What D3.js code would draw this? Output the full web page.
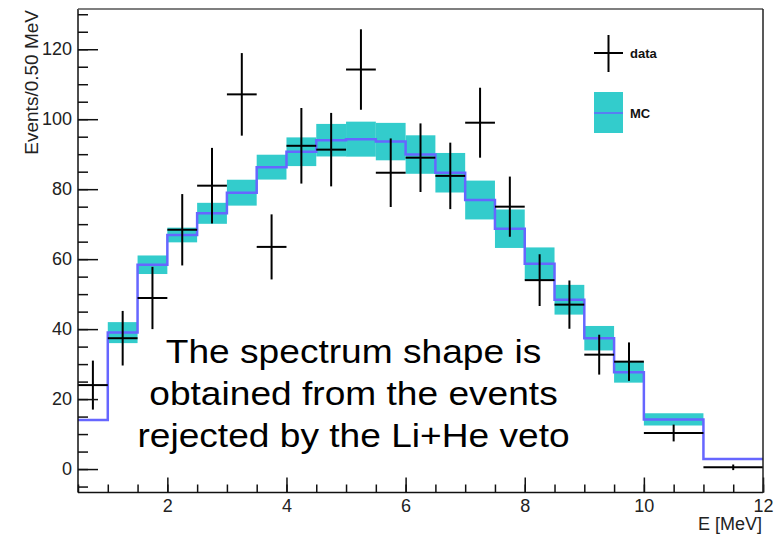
<!DOCTYPE html>
<html>
<head>
<meta charset="utf-8">
<script src="https://cdn.jsdelivr.net/npm/d3@7"></script>
<style>
  body { margin: 0; background: #fff; }
  svg { font-family: "Liberation Sans", Arial, sans-serif; }
</style>
</head>
<body>
<div id="chart"></div>
<script>
// bin edges (MeV): 0.5 MeV bins up to 10, then two 1 MeV bins
var binEdges = [0.5, 1, 1.5, 2, 2.5, 3, 3.5, 4, 4.5, 5, 5.5, 6, 6.5, 7, 7.5, 8, 8.5, 9, 9.5, 10, 11, 12];

// measured data and its error
var dataVal = [24, 37.4, 48.9, 68.4, 81, 107.1, 63.5, 92.4, 91.3, 114.2, 84.7, 89, 83.8, 99, 75, 54, 47, 32.7, 30.7, 10.3, 0.5];
var dataErr = [7, 7.8, 8.9, 10.2, 10.8, 11.8, 9.3, 10.8, 10.5, 11.5, 9.8, 9.8, 9.5, 10, 8.6, 7.4, 6.9, 5.7, 5.5, 2.4, 0.8];

// MC prediction and its band half-width
var mcVal = [14, 39, 58.4, 66.9, 73.1, 79, 86.3, 90.7, 94, 94.3, 93.6, 89.9, 84.7, 76.9, 68.7, 58.7, 48.4, 37.4, 27.7, 14.2, 2.9];
var mcErr = [0, 3, 2.65, 2.1, 3, 3.7, 3.55, 4.1, 4.65, 5, 5.35, 5.5, 5.65, 5.55, 5.5, 4.65, 4.25, 3.5, 3, 1.75, 0];

var xTicks = [2, 4, 6, 8, 10, 12];
var yTicks = [0, 20, 40, 60, 80, 100, 120];
var legendLabels = ["data", "MC"];
var noteLines = ["The spectrum shape is", "obtained from the events", "rejected by the Li+He veto"];

var W = 782, H = 536;
// plot frame (note: "top" is reserved on window, so use a prefix)
var pLeft = 78, pRight = 763, pTop = 9, pBottom = 492.5;

var svg = d3.select("#chart").append("svg")
    .attr("width", W)
    .attr("height", H);

var x = d3.scaleLinear().domain([0.5, 12]).range([pLeft, pRight]);
var y = d3.scaleLinear().domain([-6.7, 131.5]).range([pBottom, pTop]);

var bins = dataVal.map(function (d, i) {
    return {lo: binEdges[i], hi: binEdges[i + 1], v: d, e: dataErr[i], mc: mcVal[i], me: mcErr[i]};
});

// MC band
svg.append("g").selectAll("rect")
    .data(bins.filter(function (b) { return b.me > 0; }))
    .enter().append("rect")
    .attr("x", function (b) { return x(b.lo); })
    .attr("width", function (b) { return x(b.hi) - x(b.lo); })
    .attr("y", function (b) { return y(b.mc + b.me); })
    .attr("height", function (b) { return y(b.mc - b.me) - y(b.mc + b.me); })
    .attr("fill", "#33cccc");

// MC step line
var stepPts = [];
bins.forEach(function (b) {
    stepPts.push([b.lo, b.mc]);
    stepPts.push([b.hi, b.mc]);
});
svg.append("path")
    .datum(stepPts)
    .attr("fill", "none")
    .attr("stroke", "#6666ff")
    .attr("stroke-width", 2.5)
    .attr("d", d3.line()
        .x(function (p) { return x(p[0]); })
        .y(function (p) { return y(p[1]); }));

// data crosses
var cross = svg.append("g").attr("stroke", "#000").attr("stroke-width", 2);
cross.selectAll("line.h")
    .data(bins).enter().append("line")
    .attr("class", "h")
    .attr("x1", function (b) { return x(b.lo); })
    .attr("x2", function (b) { return x(b.hi); })
    .attr("y1", function (b) { return y(b.v); })
    .attr("y2", function (b) { return y(b.v); });
cross.selectAll("line.v")
    .data(bins).enter().append("line")
    .attr("class", "v")
    .attr("x1", function (b) { return x((b.lo + b.hi) / 2); })
    .attr("x2", function (b) { return x((b.lo + b.hi) / 2); })
    .attr("y1", function (b) { return y(b.v + b.e); })
    .attr("y2", function (b) { return y(b.v - b.e); });

// axes, ROOT style: ticks pointing inward
var yMinor = d3.range(-5, 131, 5);
var xMinor = d3.range(0.5, 12.01, 0.5);

var yAxis = svg.append("g").attr("transform", "translate(" + pLeft + ",0)")
    .call(d3.axisLeft(y).tickValues(yTicks).tickSize(-20).tickPadding(6).tickFormat(d3.format("d")));
svg.append("g").attr("transform", "translate(" + pLeft + ",0)")
    .call(d3.axisLeft(y).tickValues(yMinor).tickSize(-10).tickFormat(""));

var xAxis = svg.append("g").attr("transform", "translate(0," + pBottom + ")")
    .call(d3.axisBottom(x).tickValues(xTicks).tickSize(-15).tickPadding(7).tickFormat(d3.format("d")));
svg.append("g").attr("transform", "translate(0," + pBottom + ")")
    .call(d3.axisBottom(x).tickValues(xMinor).tickSize(-8).tickFormat(""));

svg.selectAll(".domain").remove();
svg.selectAll(".tick line").attr("stroke", "#111").attr("stroke-width", 1.5);
svg.selectAll(".tick text").attr("font-size", 18).attr("fill", "#222")
    .attr("font-family", "Liberation Sans, Arial, sans-serif");

// frame
svg.append("line").attr("x1", pLeft).attr("x2", pLeft).attr("y1", pTop).attr("y2", pBottom)
    .attr("stroke", "#111").attr("stroke-width", 1.5);
svg.append("line").attr("x1", pLeft).attr("x2", pRight).attr("y1", pBottom).attr("y2", pBottom)
    .attr("stroke", "#111").attr("stroke-width", 1.5);
svg.append("line").attr("x1", pLeft).attr("x2", pRight).attr("y1", pTop).attr("y2", pTop)
    .attr("stroke", "#555").attr("stroke-width", 1.5);
svg.append("line").attr("x1", pRight).attr("x2", pRight).attr("y1", pTop).attr("y2", pBottom)
    .attr("stroke", "#222").attr("stroke-width", 1.5);

// axis titles
svg.append("text")
    .attr("transform", "translate(38," + (pTop + 1) + ") rotate(-90)")
    .attr("text-anchor", "end")
    .attr("font-size", 19)
    .attr("fill", "#222")
    .text("Events/0.50 MeV");
svg.append("text")
    .attr("x", pRight - 1)
    .attr("y", 530)
    .attr("text-anchor", "end")
    .attr("font-size", 18)
    .attr("fill", "#222")
    .text("E [MeV]");

// legend
var lg = svg.append("g");
lg.append("line").attr("x1", 594).attr("x2", 623).attr("y1", 53).attr("y2", 53)
    .attr("stroke", "#000").attr("stroke-width", 2);
lg.append("line").attr("x1", 608.5).attr("x2", 608.5).attr("y1", 35).attr("y2", 72)
    .attr("stroke", "#000").attr("stroke-width", 2);
lg.append("rect").attr("x", 594).attr("y", 92).attr("width", 29).attr("height", 41)
    .attr("fill", "#33cccc");
lg.append("line").attr("x1", 594).attr("x2", 623).attr("y1", 113).attr("y2", 113)
    .attr("stroke", "#6666ff").attr("stroke-width", 1.5);
lg.selectAll("text")
    .data(legendLabels).enter().append("text")
    .attr("x", 630)
    .attr("y", function (d, i) { return i === 0 ? 58 : 118; })
    .attr("font-size", 13)
    .attr("font-weight", "bold")
    .attr("fill", "#111")
    .text(function (d) { return d; });

// annotation, slightly wider than plain Liberation Sans
svg.append("g")
    .attr("transform", "translate(353.5,0) scale(1.125,1)")
    .selectAll("text")
    .data(noteLines).enter().append("text")
    .attr("x", 0)
    .attr("y", function (d, i) { return 363.5 + i * 41.6; })
    .attr("text-anchor", "middle")
    .attr("font-size", 33)
    .attr("fill", "#000")
    .text(function (d) { return d; });
</script>
</body>
</html>
